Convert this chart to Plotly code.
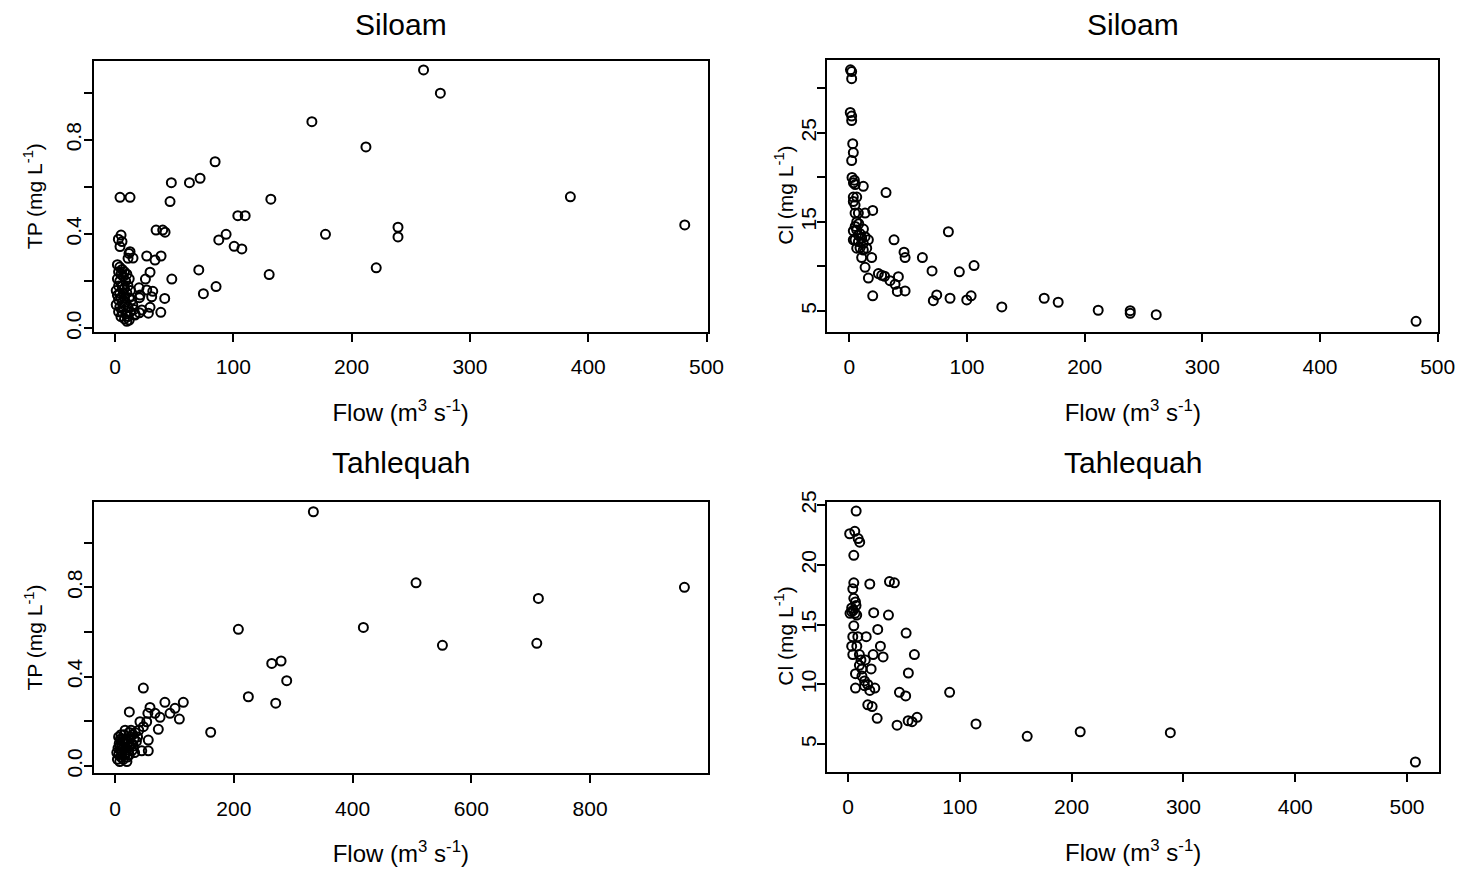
import plotly.graph_objects as go

# Siloam: total phosphorus (mg/L) against flow (m3/s)
siloam_tp_flow = [166.4, 84.6, 71.9, 62.9, 47.6, 46.5, 4.2, 12.7, 131.7, 103.8, 110.0, 177.9, 93.9,
                  87.7, 100.7, 107.2, 34.7, 40.3, 42.3, 5.1, 2.8, 5.9, 4.2, 11.8, 11.0, 26.8, 33.8,
                  38.9, 29.6, 25.7, 48.0, 70.8, 130.3, 85.4, 74.7, 20.3, 31.9, 20.6, 42.0, 29.6,
                  38.7, 20.6, 260.8, 275.0, 212.1, 384.9, 481.6, 239.2, 239.2, 220.8, 12.7, 15.2,
                  21.2, 26.8, 31.0, 22.6, 28.2, 16.9,
                  2, 4, 6, 3, 8, 5, 7, 10, 2, 4, 9, 12, 3, 6, 8, 11, 1, 4, 7, 10, 13, 2, 5, 8, 12,
                  3, 6, 9, 14, 1, 4, 7, 11, 15, 3, 6, 9, 13, 5, 8, 11, 10, 12, 16, 17]
siloam_tp = [0.877, 0.707, 0.637, 0.618, 0.618, 0.538, 0.556, 0.556, 0.548, 0.478, 0.478, 0.399, 0.399,
             0.375, 0.348, 0.337, 0.417, 0.417, 0.408, 0.396, 0.378, 0.368, 0.347, 0.318, 0.297, 0.307,
             0.290, 0.307, 0.238, 0.209, 0.209, 0.248, 0.228, 0.177, 0.147, 0.172, 0.157, 0.130, 0.127,
             0.089, 0.068, 0.066, 1.097, 0.998, 0.770, 0.558, 0.439, 0.429, 0.388, 0.257, 0.325, 0.298,
             0.141, 0.163, 0.134, 0.078, 0.064, 0.056,
             0.27, 0.26, 0.25, 0.24, 0.24, 0.23, 0.22, 0.23, 0.21, 0.20, 0.20, 0.21, 0.18, 0.18, 0.17,
             0.18, 0.16, 0.15, 0.15, 0.15, 0.16, 0.14, 0.13, 0.13, 0.13, 0.12, 0.11, 0.11, 0.12, 0.10,
             0.09, 0.09, 0.09, 0.10, 0.07, 0.07, 0.06, 0.07, 0.05, 0.04, 0.05, 0.03, 0.035, 0.08, 0.06]

# Siloam: chloride (mg/L) against flow (m3/s)
siloam_cl_flow = [1.0, 2.0, 2.0, 0.8, 2.0, 2.0, 2.9, 3.4, 2.0, 2.3, 4.3, 3.5, 5.0, 11.9, 31.2, 3.4, 6.3,
                  3.4, 4.9, 19.9, 13.4, 4.9, 7.7, 6.3, 84.2, 38.0, 46.5, 47.4, 62.1, 70.3, 93.5, 106.0,
                  19.0, 10.5, 13.4, 16.2, 24.7, 27.5, 30.0, 34.6, 38.9, 41.7, 40.8, 47.4, 19.9, 71.4,
                  74.3, 85.6, 99.8, 103.5, 129.6, 165.6, 177.5, 211.5, 238.7, 238.7, 260.8, 481.6,
                  3.4, 6.3, 9.1, 4.9, 7.7, 10.5, 13.4, 16.2, 6.3, 9.1, 11.9, 14.8, 7.7, 11.9, 3.4, 5.0,
                  8.0, 12.0]
siloam_cl = [32.1, 31.9, 31.1, 27.3, 26.9, 26.4, 23.8, 22.8, 21.9, 20.0, 19.7, 19.4, 19.2, 19.0, 18.3,
             17.8, 17.8, 17.3, 16.9, 16.3, 16.0, 16.0, 16.0, 15.0, 13.9, 13.0, 11.6, 11.0, 11.0, 9.5,
             9.4, 10.1, 11.0, 11.0, 9.9, 8.7, 9.2, 9.0, 8.9, 8.4, 8.0, 8.85, 7.2, 7.25, 6.7, 6.16, 6.8,
             6.43, 6.24, 6.7, 5.45, 6.43, 5.98, 5.08, 5.03, 4.74, 4.58, 3.84,
             14.0, 14.1, 13.7, 13.0, 12.8, 13.2, 13.35, 13.0, 12.05, 12.1, 11.85, 12.05, 13.5, 12.6,
             13.0, 14.5, 14.8, 14.2]

# Tahlequah: total phosphorus (mg/L) against flow (m3/s)
tahlequah_tp_flow = [334.0, 207.7, 263.9, 279.6, 289.1, 224.5, 270.6, 161.1, 47.7, 24.1, 58.9, 84.0,
                     115.0, 101.0, 92.6, 108.3, 75.8, 72.9, 55.3, 67.4, 53.3, 42.0, 47.7, 56.0, 45.0,
                     56.0, 506.9, 418.2, 551.3, 712.9, 710.2, 958.8,
                     4, 6, 8, 10, 12, 5, 9, 14, 16, 7, 11, 13, 18, 20, 6, 15, 22, 24, 17, 26, 28, 30,
                     19, 21, 23, 25, 3, 12, 27, 32, 34, 10, 18, 8, 14, 29, 36, 38, 40, 31, 20, 16, 33,
                     9, 24]
tahlequah_tp = [1.138, 0.612, 0.459, 0.470, 0.382, 0.310, 0.281, 0.151, 0.349, 0.242, 0.262, 0.285,
                0.285, 0.258, 0.236, 0.210, 0.218, 0.164, 0.236, 0.236, 0.198, 0.198, 0.176, 0.116,
                0.068, 0.068, 0.820, 0.620, 0.540, 0.750, 0.549, 0.800,
                0.03, 0.05, 0.02, 0.04, 0.06, 0.08, 0.07, 0.03, 0.05, 0.10, 0.09, 0.12, 0.08, 0.10,
                0.13, 0.14, 0.12, 0.15, 0.16, 0.13, 0.10, 0.14, 0.06, 0.04, 0.07, 0.09, 0.06, 0.11,
                0.16, 0.12, 0.15, 0.14, 0.12, 0.09, 0.08, 0.07, 0.11, 0.13, 0.16, 0.09, 0.02, 0.11,
                0.06, 0.12, 0.05]

# Tahlequah: chloride (mg/L) against flow (m3/s)
tahlequah_cl_flow = [7.3, 1.5, 6.1, 9.1, 10.5, 5.2, 5.2, 4.3, 19.5, 37.1, 41.5, 5.2, 6.7, 1.8, 3.3, 4.8,
                     6.3, 7.8, 3.3, 7.2, 23.0, 36.2, 5.2, 26.6, 52.0, 4.3, 8.8, 16.3, 29.0, 3.3, 7.9,
                     4.3, 10.2, 22.5, 31.4, 59.4, 11.6, 15.5, 10.2, 12.5, 20.7, 6.7, 54.0, 12.5, 14.8,
                     17.7, 14.8, 6.7, 19.5, 24.0, 46.0, 51.6, 90.9, 17.7, 21.6, 26.1, 43.9, 53.8, 57.3,
                     61.8, 114.5, 160.3, 207.7, 288.3, 507.5]
tahlequah_cl = [24.5, 22.6, 22.8, 22.2, 21.9, 20.8, 18.5, 18.0, 18.4, 18.6, 18.5, 17.2, 16.9, 15.95,
                16.1, 16.2, 15.95, 15.8, 16.4, 16.6, 16.0, 15.8, 14.9, 14.6, 14.3, 14.0, 14.0, 14.0,
                13.2, 13.2, 13.2, 12.5, 12.5, 12.5, 12.3, 12.5, 12.05, 12.05, 11.6, 11.3, 11.3, 10.9,
                10.96, 10.7, 10.3, 10.0, 9.9, 9.7, 9.5, 9.7, 9.35, 9.04, 9.35, 8.3, 8.15, 7.17, 6.6,
                6.97, 6.89, 7.26, 6.7, 5.67, 6.05, 5.97, 3.52]

site_titles = ["Siloam", "Siloam", "Tahlequah", "Tahlequah"]
flow_title = "Flow (m<sup>3</sup> s<sup>-1</sup>)"
tp_title = "TP (mg L<sup>-1</sup>)"
cl_title = "Cl (mg L<sup>-1</sup>)"

FONT = "Liberation Sans, Arial, sans-serif"
W, H = 1463, 885

def px_dom(a, b):
    return [a / W, b / W]

def py_dom(top, bottom):
    return [1 - bottom / H, 1 - top / H]

# ytx: horizontal pixel position of the rotated y-axis title
panels = [
    dict(x=siloam_tp_flow, y=siloam_tp, xd=px_dom(93.5, 707.7), yd=py_dom(60.7, 331.7),
         xr=[-18.2, 501], yr=[-0.0144, 1.136],
         xt=[0, 100, 200, 300, 400, 500], yt=[0, 0.2, 0.4, 0.6, 0.8, 1.0],
         ytt=["0.0", "", "0.4", "", "0.8", ""], ytitle=tp_title, ytx=33, ylo=-6, tgap=36),
    dict(x=siloam_cl_flow, y=siloam_cl, xd=px_dom(827.3, 1438.3), yd=py_dom(60.0, 331.7),
         xr=[-18.7, 500.5], yr=[2.67, 33.2],
         xt=[0, 100, 200, 300, 400, 500], yt=[5, 10, 15, 20, 25, 30],
         ytt=["5", "", "15", "", "25", ""], ytitle=cl_title, ytx=784, ylo=-7, tgap=36),
    dict(x=tahlequah_tp_flow, y=tahlequah_tp, xd=px_dom(94.0, 707.7), yd=py_dom(501.7, 773.3),
         xr=[-35.4, 998], yr=[-0.0327, 1.183],
         xt=[0, 200, 400, 600, 800], yt=[0, 0.2, 0.4, 0.6, 0.8, 1.0],
         ytt=["0.0", "", "0.4", "", "0.8", ""], ytitle=tp_title, ytx=33, ylo=-6, tgap=39),
    dict(x=tahlequah_cl_flow, y=tahlequah_cl, xd=px_dom(827.3, 1439.0), yd=py_dom(501.7, 771.7),
         xr=[-18.5, 528.6], yr=[2.71, 25.28],
         xt=[0, 100, 200, 300, 400, 500], yt=[5, 10, 15, 20, 25],
         ytt=["5", "10", "15", "20", "25"], ytitle=cl_title, ytx=784, ylo=-7, tgap=39),
]

fig = go.Figure()
layout = dict(
    template="none",
    width=W, height=H, autosize=False,
    margin=dict(l=0, r=0, t=0, b=0, pad=0),
    paper_bgcolor="white", plot_bgcolor="white",
    showlegend=False,
    font=dict(family=FONT, size=21, color="black"),
    annotations=[],
)

axis_common = dict(showline=True, linecolor="black", linewidth=2, mirror=True,
                   ticks="outside", ticklen=8, tickwidth=2, tickcolor="black",
                   showgrid=False, zeroline=False, automargin=False,
                   tickfont=dict(family=FONT, size=21, color="black"))

for i, p in enumerate(panels, start=1):
    sfx = "" if i == 1 else str(i)
    fig.add_trace(go.Scatter(
        x=p["x"], y=p["y"], mode="markers",
        xaxis="x" + sfx, yaxis="y" + sfx,
        marker=dict(symbol="circle-open", size=9, color="black", line=dict(width=2, color="black")),
        hoverinfo="x+y",
    ))
    layout["xaxis" + sfx] = dict(
        axis_common, domain=p["xd"], range=p["xr"], anchor="y" + sfx,
        tickmode="array", tickvals=p["xt"], ticktext=[str(v) for v in p["xt"]],
        ticklabelstandoff=7,
        title=dict(text=flow_title, font=dict(family=FONT, size=24), standoff=27),
    )
    layout["yaxis" + sfx] = dict(
        axis_common, domain=p["yd"], range=p["yr"], anchor="x" + sfx,
        tickmode="array", tickvals=p["yt"], ticktext=p["ytt"], tickangle=-90,
        ticklabelstandoff=p["ylo"],
    )
    xc = (p["xd"][0] + p["xd"][1]) / 2
    yc = (p["yd"][0] + p["yd"][1]) / 2
    layout["annotations"].append(dict(
        text=site_titles[i - 1], xref="paper", yref="paper",
        x=xc, y=p["yd"][1] + p["tgap"] / H, xanchor="center", yanchor="middle",
        showarrow=False, font=dict(family=FONT, size=30, color="black"),
    ))
    # rotated y-axis title
    layout["annotations"].append(dict(
        text=p["ytitle"], xref="paper", yref="paper",
        x=p["ytx"] / W, y=yc, xanchor="center", yanchor="middle", textangle=-90,
        showarrow=False, font=dict(family=FONT, size=21, color="black"),
    ))

fig.update_layout(**layout)
fig.write_html("out.html", post_script="document.body.style.margin='0';")
